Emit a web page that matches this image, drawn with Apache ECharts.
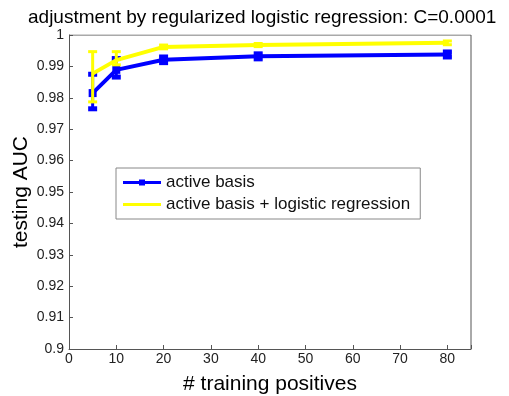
<!DOCTYPE html>
<html><head><meta charset="utf-8">
<script src="https://cdn.jsdelivr.net/npm/echarts@6/dist/echarts.min.js"></script>
<style>html,body{margin:0;padding:0;background:#fff}#c{width:509px;height:396px}</style>
</head><body><div id="c"></div>
<script>
const xs = [5, 10, 20, 40, 80];
const blueMean = [0.9815, 0.9889, 0.9921, 0.9932, 0.9938];
const blueLow  = [0.9765, 0.9866, 0.9912, 0.9924, 0.9930];
const blueHigh = [0.9875, 0.9925, 0.9930, 0.9940, 0.9946];
const yelMean  = [0.9877, 0.9920, 0.9962, 0.9968, 0.9975];
const yelLow   = [0.9787, 0.9905, 0.9956, 0.9963, 0.9969];
const yelHigh  = [0.9947, 0.9947, 0.9968, 0.9973, 0.9981];
const yTicks = [0.9,0.91,0.92,0.93,0.94,0.95,0.96,0.97,0.98,0.99,1];

const FONT = 'Liberation Sans, Arial, sans-serif';
const SLIVERS = 'M0,0H38V0.01H0Z M0,9.99H38V10H0Z ';
function errSeries(low, high, color, capW) {
  return {
    type: 'custom', silent: true, z: 5,
    data: xs.map((x, i) => [x, low[i], high[i]]),
    renderItem: function (params, api) {
      const p1 = api.coord([api.value(0), api.value(1)]);
      const p2 = api.coord([api.value(0), api.value(2)]);
      const w = 4.5;
      const st = { stroke: color, lineWidth: 3 };
      const cs = { stroke: color, lineWidth: capW };
      return { type: 'group', children: [
        { type: 'line', shape: { x1: p1[0], y1: p1[1], x2: p2[0], y2: p2[1] }, style: st },
        { type: 'line', shape: { x1: p1[0]-w, y1: p1[1], x2: p1[0]+w, y2: p1[1] }, style: cs },
        { type: 'line', shape: { x1: p2[0]-w, y1: p2[1], x2: p2[0]+w, y2: p2[1] }, style: cs }
      ]};
    }
  };
}
const chart = echarts.init(document.getElementById('c'));
chart.setOption({
  animation: false,
  title: { text: 'adjustment by regularized logistic regression: C=0.0001', left: 23, top: 3,
    textStyle: { fontFamily: FONT, fontSize: 19, fontWeight: 'normal', color: '#000' } },
  grid: { left: 69, right: 38, top: 35, bottom: 47, containLabel: false, outerBoundsMode: 'none' },
  legend: {
    orient: 'vertical', left: 116, top: 168,
    backgroundColor: '#fff', borderColor: '#888', borderWidth: 1,
    padding: [6, 10, 6, 7], itemGap: 5, itemWidth: 38, itemHeight: 10,
    textStyle: { fontFamily: FONT, fontSize: 17, color: '#111' },
    data: [
      { name: 'active basis', icon: 'path://' + SLIVERS + 'M0,3.5H16V2H22V3.5H38V6.5H22V8H16V6.5H0Z' },
      { name: 'active basis + logistic regression', icon: 'path://' + SLIVERS + 'M0,3.5H38V6.5H0Z' }
    ]
  },
  xAxis: {
    type: 'value', min: 0, max: 85, interval: 10,
    name: '# training positives', nameLocation: 'middle', nameGap: 25, nameMoveOverlap: false,
    nameTextStyle: { fontFamily: FONT, fontSize: 21, color: '#000' },
    axisLine: { lineStyle: { color: '#555' } },
    axisTick: { inside: true, length: 4, lineStyle: { color: '#555' } },
    axisLabel: { fontFamily: FONT, fontSize: 14, color: '#222', margin: 3,
      formatter: v => (v % 10 === 0 && v <= 80) ? String(v) : '' },
    splitLine: { show: false }
  },
  yAxis: {
    type: 'value', min: 0.9, max: 1, interval: 0.01,
    name: 'testing AUC', nameLocation: 'middle', nameGap: 37, nameMoveOverlap: false,
    nameTextStyle: { fontFamily: FONT, fontSize: 21, color: '#000' },
    axisLine: { show: true, lineStyle: { color: '#555' } },
    axisTick: { inside: true, length: 4, lineStyle: { color: '#555' } },
    axisLabel: { fontFamily: FONT, fontSize: 14, color: '#222', margin: 5,
      formatter: v => { const t = yTicks.find(k => Math.abs(k - v) < 1e-6); return t === undefined ? '' : String(t); } },
    splitLine: { show: false }
  },
  series: [
    { name: 'active basis', type: 'line', data: xs.map((x, i) => [x, blueMean[i]]),
      color: '#0000ff', lineStyle: { width: 4, color: '#0000ff' },
      symbol: 'rect', symbolSize: 8, itemStyle: { color: '#0000ff' }, z: 4 },
    { name: 'active basis + logistic regression', type: 'line', data: xs.map((x, i) => [x, yelMean[i]]),
      color: '#ffff00', lineStyle: { width: 4, color: '#ffff00' },
      symbol: 'none', itemStyle: { color: '#ffff00' }, z: 6 },
    errSeries(blueLow, blueHigh, '#0000ff', 5),
    errSeries(yelLow, yelHigh, '#ffff00', 3),
    { type: 'line', data: [[0,1],[85,1]], symbol: 'none', silent: true,
      lineStyle: { color: '#555', width: 1 }, z: 1 },
    { type: 'line', data: [[85,0.9],[85,1]], symbol: 'none', silent: true,
      lineStyle: { color: '#555', width: 1 }, z: 1 }
  ]
});
</script></body></html>
